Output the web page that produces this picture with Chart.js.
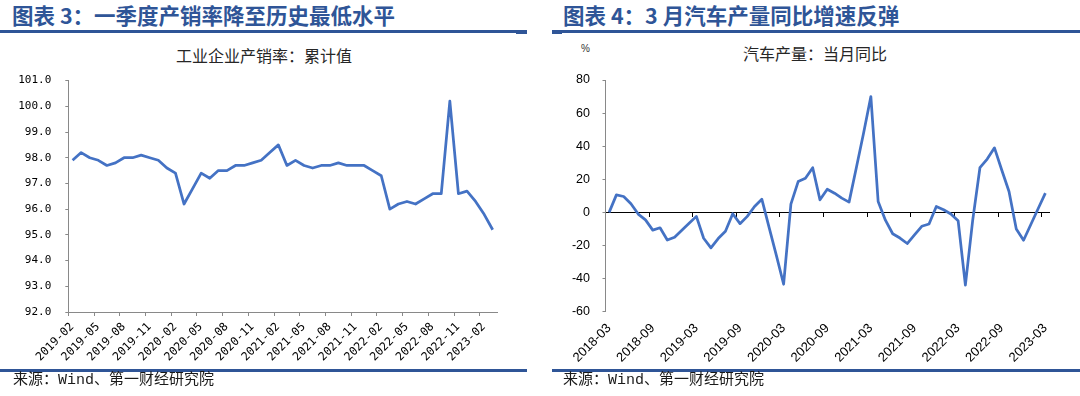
<!DOCTYPE html>
<html lang="zh-CN">
<head>
<meta charset="utf-8">
<title>产销率与汽车产量</title>
<script src="https://cdn.jsdelivr.net/npm/chart.js@4"></script>
<style>
  body { margin: 0; background: #fff; font-family: "Noto Sans CJK SC", sans-serif; }
  .page { position: relative; width: 1080px; height: 396px; overflow: hidden; background: #fff; }
  .title { position: absolute; top: 2px; font-size: 21.5px; font-weight: bold; color: #2f5597; line-height: 26px; white-space: nowrap; }
  .rule { position: absolute; background: #2f5597; }
  .subtitle { position: absolute; font-size: 16px; color: #262626; line-height: 20px; text-align: center; white-space: nowrap; }
  .unit { position: absolute; left: 581px; top: 43px; font-size: 10px; color: #333; font-family: "Liberation Sans", sans-serif; }
  .source { position: absolute; top: 371px; font-size: 15px; color: #1a1a1a; line-height: 20px; white-space: nowrap; font-family: "Liberation Mono", "Noto Sans CJK SC", monospace; }
  .box { position: absolute; top: 60px; height: 310px; }
</style>
</head>
<body>
<div class="page">
  <div class="title" style="left: 12px;">图表 3：一季度产销率降至历史最低水平</div>
  <div class="title" style="left: 563px;">图表 4：3 月汽车产量同比增速反弹</div>
  <div class="rule" style="left: 0; width: 527px; top: 30px; height: 2.5px;"></div>
  <div class="rule" style="left: 516px; width: 11px; top: 30px; height: 3.5px;"></div>
  <div class="rule" style="left: 552px; width: 528px; top: 30px; height: 2.5px;"></div>
  <div class="rule" style="left: 552px; width: 10px; top: 30px; height: 3.5px;"></div>

  <div class="subtitle" style="left: 164px; width: 200px; top: 45px;">工业企业产销率：累计值</div>
  <div class="subtitle" style="left: 715px; width: 200px; top: 43px;">汽车产量：当月同比</div>
  <div class="unit">%</div>

  <div class="box" style="left: 0; width: 530px;"><canvas id="chart_rate"></canvas></div>
  <div class="box" style="left: 540px; width: 540px;"><canvas id="chart_auto"></canvas></div>

  <div class="rule" style="left: 0; width: 527px; top: 369px; height: 3px;"></div>
  <div class="rule" style="left: 552px; width: 528px; top: 369px; height: 3px;"></div>
  <div class="source" style="left: 13px;">来源：Wind、第一财经研究院</div>
  <div class="source" style="left: 563px;">来源：Wind、第一财经研究院</div>
</div>

<script>
//! Data: 工业企业产销率（累计值）
const rateMonths = [
  "2019-02", "2019-03", "2019-04", "2019-05", "2019-06", "2019-07", "2019-08", "2019-09", "2019-10", "2019-11", "2019-12",
  "2020-01", "2020-02", "2020-03", "2020-04", "2020-05", "2020-06", "2020-07", "2020-08", "2020-09", "2020-10", "2020-11", "2020-12",
  "2021-01", "2021-02", "2021-03", "2021-04", "2021-05", "2021-06", "2021-07", "2021-08", "2021-09", "2021-10", "2021-11", "2021-12",
  "2022-01", "2022-02", "2022-03", "2022-04", "2022-05", "2022-06", "2022-07", "2022-08", "2022-09", "2022-10", "2022-11", "2022-12",
  "2023-01", "2023-02", "2023-03",
];
const rateValues = [
  97.9, 98.2, 98.0, 97.9, 97.7, 97.8, 98.0, 98.0, 98.1, 98.0,
  97.9, 97.6, 97.4, 96.2, 96.8, 97.4, 97.2, 97.5, 97.5, 97.7,
  97.7, 97.8, 97.9, 98.2, 98.5, 97.7, 97.9, 97.7, 97.6, 97.7,
  97.7, 97.8, 97.7, 97.7, 97.7, 97.5, 97.3, 96.0, 96.2, 96.3,
  96.2, 96.4, 96.6, 96.6, 100.2, 96.6, 96.7, 96.3, 95.8, 95.2,
];
const rateTicks = [
  "2019-02", "2019-05", "2019-08", "2019-11", "2020-02", "2020-05", "2020-08", "2020-11",
  "2021-02", "2021-05", "2021-08", "2021-11", "2022-02", "2022-05", "2022-08", "2022-11", "2023-02",
];

//! Data: 汽车产量（当月同比，%）
const autoMonths = [
  "2018-03", "2018-04", "2018-05", "2018-06", "2018-07", "2018-08", "2018-09", "2018-10", "2018-11", "2018-12",
  "2019-01", "2019-02", "2019-03", "2019-04", "2019-05", "2019-06", "2019-07", "2019-08", "2019-09", "2019-10", "2019-11", "2019-12",
  "2020-01", "2020-02", "2020-03", "2020-04", "2020-05", "2020-06", "2020-07", "2020-08", "2020-09", "2020-10", "2020-11", "2020-12",
  "2021-01", "2021-02", "2021-03", "2021-04", "2021-05", "2021-06", "2021-07", "2021-08", "2021-09", "2021-10", "2021-11", "2021-12",
  "2022-01", "2022-02", "2022-03", "2022-04", "2022-05", "2022-06", "2022-07", "2022-08", "2022-09", "2022-10", "2022-11", "2022-12",
  "2023-01", "2023-02", "2023-03",
];
const autoValues = [
  0, 10.6, 9.6, 5.2, -1, -4.5, -10.7, -9.3, -16.7, -15,
  -10.8, -6.6, -2.4, -15.6, -21.4, -15.8, -11.4, -0.8, -6.8, -2.4,
  3.6, 8, -9, -26, -43.4, 5, 18.6, 20.6, 27, 7.6,
  14, 11.6, 8.6, 6.2, 27, 48, 70, 6.6, -4.7, -12.9,
  -15.5, -18.8, -13.6, -8.4, -7, 3.6, 1.6, -1, -5, -44,
  -5, 27, 32.2, 39, 25.6, 12.6, -10, -16.8, -7.3, 2.2,
  11.6,
];
const autoTicks = [
  "2018-03", "2018-09", "2019-03", "2019-09", "2020-03", "2020-09",
  "2021-03", "2021-09", "2022-03", "2022-09", "2023-03",
];

// month categories sit between tick marks, labels hang on the marks
const pickTicks = (months, labels) => (scale) => {
  scale.ticks = labels.map((label) => ({ value: months.indexOf(label) }));
};
const toPoints = (values) => values.map((v, i) => ({ x: i + 0.5, y: v }));

const axisGray = "#898989";
const lineBlue = "#4472c4";

//! Chart 3
new Chart(document.getElementById("chart_rate"), {
  type: "line",
  data: {
    datasets: [
      {
        label: "工业企业产销率：累计值",
        data: toPoints(rateValues),
        borderColor: lineBlue,
        borderWidth: 2.75,
        borderJoinStyle: "round",
        pointRadius: 0,
        tension: 0,
      },
    ],
  },
  options: {
    responsive: true,
    maintainAspectRatio: false,
    animation: false,
    layout: { padding: { top: 18, right: 33, left: 0, bottom: 0 } },
    plugins: { legend: { display: false }, tooltip: { enabled: false } },
    scales: {
      x: {
        type: "linear",
        min: 0,
        max: rateMonths.length,
        afterBuildTicks: pickTicks(rateMonths, rateTicks),
        afterFit: (scale) => {
          scale.height = 58;
        },
        grid: { drawOnChartArea: false, tickLength: 4, color: axisGray },
        border: { color: axisGray },
        ticks: {
          autoSkip: false,
          minRotation: 45,
          maxRotation: 45,
          padding: 4,
          labelOffset: 4,
          color: "#000",
          font: { family: "DejaVu Sans Mono", size: 11.5 },
          callback: (v) => rateMonths[v],
        },
      },
      y: {
        min: 92,
        max: 101,
        afterFit: (scale) => {
          scale.width = 68.3;
        },
        grid: { drawOnChartArea: false, tickLength: 3, color: axisGray },
        border: { color: axisGray },
        ticks: {
          stepSize: 1,
          padding: 14,
          color: "#000",
          font: { family: "DejaVu Sans Mono", size: 11 },
          callback: (v) => v.toFixed(1),
        },
      },
    },
  },
});

//! Chart 4
new Chart(document.getElementById("chart_auto"), {
  type: "line",
  data: {
    datasets: [
      {
        label: "汽车产量：当月同比",
        data: toPoints(autoValues),
        xAxisID: "x",
        borderColor: lineBlue,
        borderWidth: 2.75,
        borderJoinStyle: "round",
        pointRadius: 0,
        tension: 0,
      },
    ],
  },
  options: {
    responsive: true,
    maintainAspectRatio: false,
    animation: false,
    layout: { padding: { top: 18, right: 31, left: 0, bottom: 0 } },
    plugins: { legend: { display: false }, tooltip: { enabled: false } },
    scales: {
      // zero line with tick marks
      x: {
        type: "linear",
        position: { y: 0 },
        min: 0,
        max: autoMonths.length,
        afterBuildTicks: pickTicks(autoMonths, autoTicks),
        grid: { drawOnChartArea: false, tickLength: 4, color: "#000" },
        border: { color: "#000" },
        ticks: { display: false },
      },
      // labels along the bottom
      x2: {
        type: "linear",
        position: "bottom",
        min: 0,
        max: autoMonths.length,
        afterBuildTicks: pickTicks(autoMonths, autoTicks),
        afterFit: (scale) => {
          scale.height = 58.3;
        },
        grid: { display: false, drawTicks: false },
        border: { display: false },
        ticks: {
          autoSkip: false,
          minRotation: 45,
          maxRotation: 45,
          padding: 9,
          labelOffset: 3.6,
          color: "#000",
          font: { family: "Liberation Sans", size: 13 },
          callback: (v) => autoMonths[v],
        },
      },
      y: {
        min: -60,
        max: 80,
        afterFit: (scale) => {
          scale.width = 65.5;
        },
        grid: { drawOnChartArea: false, tickLength: 3, color: axisGray },
        border: { color: axisGray },
        ticks: {
          stepSize: 20,
          padding: 12.5,
          color: "#000",
          font: { family: "Liberation Sans", size: 12.5 },
        },
      },
    },
  },
});
</script>
</body>
</html>
